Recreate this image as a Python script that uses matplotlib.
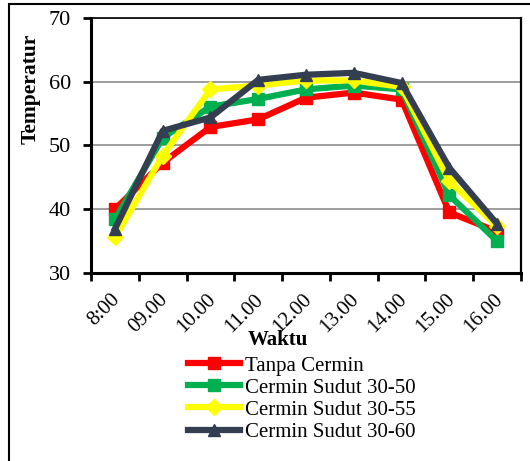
import matplotlib
matplotlib.use("Agg")
import matplotlib.pyplot as plt
import matplotlib.transforms as mtransforms
from matplotlib.patches import Rectangle
import numpy as np

# data
waktu = ["8:00", "09.00", "10.00", "11.00", "12.00", "13.00", "14.00", "15.00", "16.00"]
tanpa_cermin = [40.0, 47.3, 52.9, 54.1, 57.5, 58.3, 57.2, 39.5, 36.5]
sudut_30_50 = [38.4, 51.2, 56.1, 57.3, 58.8, 59.4, 58.8, 42.2, 35.0]
sudut_30_55 = [35.6, 48.4, 58.8, 59.4, 60.2, 60.2, 59.2, 44.4, 37.3]
sudut_30_60 = [36.9, 52.3, 54.4, 60.3, 61.1, 61.4, 59.8, 46.5, 37.7]

plt.rcParams['font.family'] = ['Liberation Serif', 'DejaVu Serif']

fig = plt.figure(figsize=(5.3, 4.61), dpi=100)
fig.patch.set_facecolor('white')

# outer frame of the picture
fig.patches.append(Rectangle((8.5 / 530, -0.1), 2.0, 1.1 - 4.5 / 461,
                             transform=fig.transFigure, fill=False,
                             edgecolor='black', linewidth=1.5))

ax = fig.add_axes([91 / 530, 1 - 273 / 461, 430 / 530, 255 / 461])

x = np.arange(len(waktu))
series = [
    (tanpa_cermin, 'Tanpa Cermin', '#ff0000', 's'),
    (sudut_30_50, 'Cermin Sudut 30-50', '#00b050', 's'),
    (sudut_30_55, 'Cermin Sudut 30-55', '#ffff00', 'D'),
    (sudut_30_60, 'Cermin Sudut 30-60', '#333f50', '^'),
]
for vals, label, color, marker in series:
    ax.plot(x, vals, color=color, linewidth=4.5, marker=marker, markersize=8.5,
            markerfacecolor=color, markeredgecolor=color, label=label,
            solid_joinstyle='round')

ax.set_ylim(30, 70)
ax.set_yticks([30, 40, 50, 60, 70])
ax.yaxis.grid(True, color='#8c8c8c', linewidth=1.2)
ax.set_axisbelow(True)
ax.set_xlim(-0.5, len(waktu) - 0.5)
ax.set_xticks(np.arange(-0.5, len(waktu)))
ax.set_xticklabels([])
ax.set_xticks(x, minor=True)
ax.set_xticklabels(waktu, minor=True, rotation=45, ha='right', va='top',
                   rotation_mode='anchor', fontsize=15)
ax.tick_params(axis='x', which='minor', length=0, pad=8)
ax.tick_params(axis='both', which='major', direction='out', length=6, width=2,
               labelsize=16)
ax.tick_params(axis='y', pad=8.5)

# nudge the rotated labels a little down and left
shift = mtransforms.ScaledTranslation(-4 / 100, -6 / 100, fig.dpi_scale_trans)
for lbl in ax.get_xticklabels(minor=True):
    lbl.set_transform(lbl.get_transform() + shift)

for side in ['left', 'bottom']:
    ax.spines[side].set_linewidth(2.2)
ax.spines['top'].set_linewidth(1.2)
ax.spines['right'].set_linewidth(1.6)

fig.text(31 / 530, 1 - 89 / 461, 'Temperatur', rotation=90, ha='center',
         va='center', fontsize=15.5, fontweight='bold')
fig.text(278 / 530, 1 - 340 / 461, 'Waktu', ha='center', va='center',
         fontsize=15, fontweight='bold')

fig.legend(loc='upper left', bbox_to_anchor=(188 / 530, 1 - 356 / 461),
           frameon=False, fontsize=15, handlelength=2.5, handletextpad=0.22,
           labelspacing=0.12, borderaxespad=0, borderpad=0)

fig.savefig('out.png', dpi=100, facecolor='white')
